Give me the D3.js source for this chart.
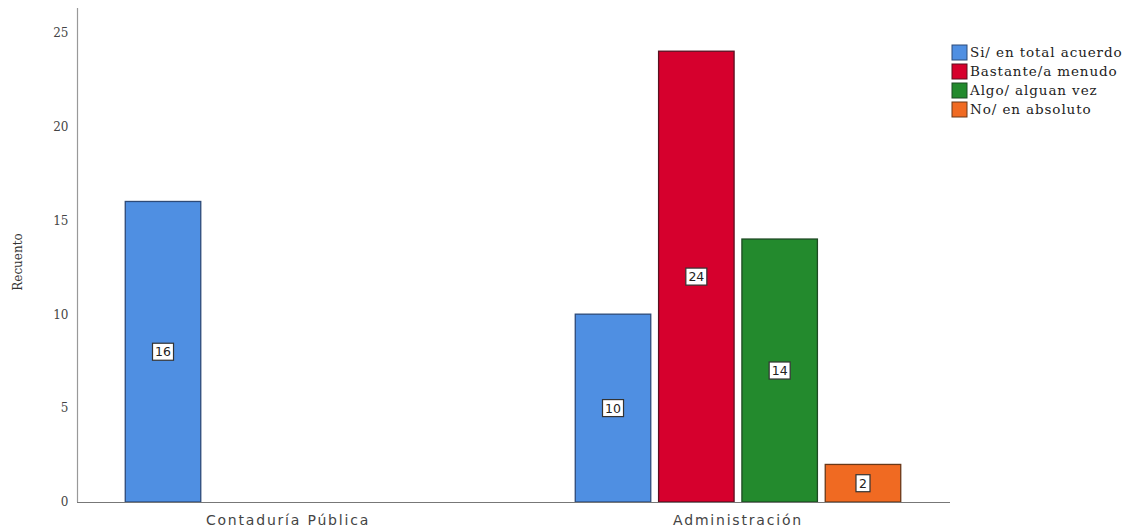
<!DOCTYPE html>
<html><head><meta charset="utf-8">
<script src="https://cdn.jsdelivr.net/npm/d3@7"></script>
<style>body{margin:0;background:#fff}</style>
</head><body>
<svg id="c" width="1134" height="531"></svg>
<script>
const categories = ["Contaduría Pública", "Administración"];
const seriesNames = ["Si/ en total acuerdo", "Bastante/a menudo", "Algo/ alguan vez", "No/ en absoluto"];
const siValues = [16, 10];
const bastanteValues = [0, 24];
const algoValues = [0, 14];
const noValues = [0, 2];
const yTicks = [0, 5, 10, 15, 20, 25];
const colors = ["#4f8fe2", "#d6002d", "#238a2d", "#f06a22"];
const strokes = ["#2d4a78", "#5a1020", "#1d4a22", "#6a3818"];

const seriesValues = [siValues, bastanteValues, algoValues, noValues];
const svg = d3.select("#c");
const y = d3.scaleLinear().domain([0, 26.3]).range([502, 8]);
const x0 = d3.scaleBand().domain(categories).range([63, 963]).paddingInner(0).paddingOuter(0);
const gw = 333.3;
const x1 = d3.scaleBand().domain(seriesNames)
  .range([x0.bandwidth()/2 - gw/2, x0.bandwidth()/2 + gw/2])
  .paddingInner(0.094).paddingOuter(0.047);

svg.append("line").attr("x1", 77.5).attr("x2", 77.5).attr("y1", y.range()[1]).attr("y2", y(0))
  .attr("stroke", "#999").attr("stroke-width", 1.2);

const yAxis = d3.axisLeft(y).tickValues(yTicks).tickSize(0).tickPadding(9);
const gy = svg.append("g").attr("transform", "translate(77.5,0)").call(yAxis);
gy.select(".domain").remove();
gy.selectAll("text").attr("font-family", "DejaVu Serif, serif")
  .attr("font-size", 12).attr("fill", "#444");

svg.append("text").attr("transform", "translate(22,262) rotate(-90)")
  .attr("text-anchor", "middle").attr("font-family", "DejaVu Serif, serif")
  .attr("font-size", 12).attr("fill", "#333").text("Recuento");

const rows = [];
categories.forEach((c, ci) => {
  seriesNames.forEach((s, si) => {
    rows.push({cat: c, series: s, si: si, value: seriesValues[si][ci]});
  });
});
const visible = rows.filter(d => d.value > 0);

svg.append("g").selectAll("rect").data(visible).join("rect")
  .attr("x", d => x0(d.cat) + x1(d.series))
  .attr("y", d => y(d.value))
  .attr("width", x1.bandwidth())
  .attr("height", d => y(0) - y(d.value))
  .attr("fill", d => colors[d.si])
  .attr("stroke", d => strokes[d.si])
  .attr("stroke-width", 1.3);

svg.append("line").attr("x1", 77).attr("x2", 950).attr("y1", 502.5).attr("y2", 502.5)
  .attr("stroke", "#777").attr("stroke-width", 1.2);

const lab = svg.append("g").selectAll("g").data(visible).join("g")
  .attr("transform", d => `translate(${x0(d.cat) + x1(d.series) + x1.bandwidth()/2},${y(d.value/2)})`);
lab.append("rect")
  .attr("x", d => d.value >= 10 ? -10.5 : -7).attr("y", -8.5)
  .attr("width", d => d.value >= 10 ? 21 : 14).attr("height", 17)
  .attr("fill", "#fff").attr("stroke", "#333").attr("stroke-width", 1.2);
lab.append("text").attr("text-anchor", "middle").attr("dy", "0.36em")
  .attr("font-family", "DejaVu Sans, sans-serif").attr("font-size", 12.5)
  .attr("fill", "#222").text(d => d.value);

svg.append("g").selectAll("text").data(categories).join("text")
  .attr("x", d => x0(d) + x0.bandwidth()/2).attr("y", 525)
  .attr("text-anchor", "middle").attr("font-family", "DejaVu Sans, sans-serif")
  .attr("font-size", 14).attr("letter-spacing", 1.8).attr("fill", "#444").text(d => d);

const lg = svg.append("g").attr("transform", "translate(952,45)");
const li = lg.selectAll("g").data(seriesNames).join("g")
  .attr("transform", (d, i) => `translate(0,${i * 19})`);
li.append("rect").attr("width", 15).attr("height", 15)
  .attr("fill", (d, i) => colors[i]).attr("stroke", (d, i) => strokes[i]).attr("stroke-width", 1);
li.append("text").attr("x", 18).attr("y", 12)
  .attr("font-family", "DejaVu Serif, serif").attr("font-size", 13.5).attr("letter-spacing", 0.9)
  .attr("fill", "#222").text(d => d);
</script>
</body></html>
